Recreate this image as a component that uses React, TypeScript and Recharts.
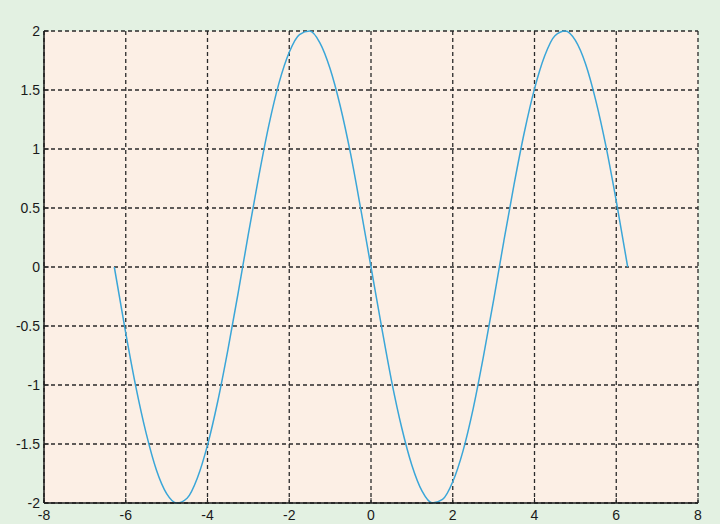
import { CartesianGrid, Line, LineChart, XAxis, YAxis } from "recharts";

// points
const xValues = [
  -6.28, -6.0, -5.75, -5.5, -5.25, -5.0, -4.75, -4.5, -4.25, -4.0, -3.75, -3.5, -3.25,
  -3.0, -2.75, -2.5, -2.25, -2.0, -1.75, -1.5, -1.25, -1.0, -0.75, -0.5, -0.25, 0,
  0.25, 0.5, 0.75, 1.0, 1.25, 1.5, 1.75, 2.0, 2.25, 2.5, 2.75, 3.0, 3.25, 3.5, 3.75,
  4.0, 4.25, 4.5, 4.75, 5.0, 5.25, 5.5, 5.75, 6.0, 6.28,
];
const yValues = [
  0, -0.56, -1.02, -1.41, -1.72, -1.92, -2.0, -1.96, -1.79, -1.51, -1.14, -0.7, -0.22,
  0.28, 0.76, 1.2, 1.56, 1.82, 1.97, 2.0, 1.9, 1.68, 1.36, 0.96, 0.49, 0,
  -0.49, -0.96, -1.36, -1.68, -1.9, -2.0, -1.97, -1.82, -1.56, -1.2, -0.76, -0.28, 0.22,
  0.7, 1.14, 1.51, 1.79, 1.96, 2.0, 1.92, 1.72, 1.41, 1.02, 0.56, 0,
];
const xTicks = [-8, -6, -4, -2, 0, 2, 4, 6, 8];
const yTicks = [-2, -1.5, -1, -0.5, 0, 0.5, 1, 1.5, 2];

const data = xValues.map((x, i) => ({ x, y: yValues[i] }));

const tickStyle = { fontSize: 14, fill: "#1a1a1a", fontFamily: "Liberation Sans, Arial, sans-serif" };

export default function App() {
  return (
    <div style={{ position: "absolute", left: 0, top: 0, width: 720, height: 524, background: "#e3f1e2" }}>
      <LineChart width={720} height={524} data={data} margin={{ top: 31, right: 22, bottom: 1, left: 4 }}>
        <CartesianGrid
          fill="#fcefe5"
          stroke="#2a2a2a"
          strokeWidth={1.3}
          strokeDasharray="4 3"
          verticalValues={xTicks}
          horizontalValues={yTicks}
        />
        <XAxis
          dataKey="x"
          type="number"
          domain={[-8, 8]}
          ticks={xTicks}
          height={20}
          tick={tickStyle}
          tickLine={{ stroke: "#222" }}
          tickSize={-5}
          tickMargin={12}
          axisLine={{ stroke: "#1a1a1a", strokeWidth: 1.5 }}
          interval={0}
        />
        <XAxis
          xAxisId="top"
          dataKey="x"
          type="number"
          orientation="top"
          domain={[-8, 8]}
          ticks={xTicks}
          height={0}
          tick={false}
          tickLine={false}
          axisLine={{ stroke: "#1a1a1a", strokeWidth: 1.5 }}
        />
        <YAxis
          type="number"
          domain={[-2, 2]}
          ticks={yTicks}
          width={40}
          tick={tickStyle}
          tickLine={{ stroke: "#222" }}
          tickSize={-5}
          tickMargin={9}
          axisLine={{ stroke: "#1a1a1a", strokeWidth: 1.5 }}
          interval={0}
        />
        <YAxis
          yAxisId="right"
          type="number"
          orientation="right"
          domain={[-2, 2]}
          ticks={yTicks}
          width={0}
          tick={false}
          tickLine={false}
          axisLine={{ stroke: "#1a1a1a", strokeWidth: 1.5 }}
        />
        <Line
          type="monotone"
          dataKey="y"
          stroke="#3aa6d8"
          strokeWidth={1.5}
          dot={false}
          isAnimationActive={false}
        />
      </LineChart>
    </div>
  );
}
